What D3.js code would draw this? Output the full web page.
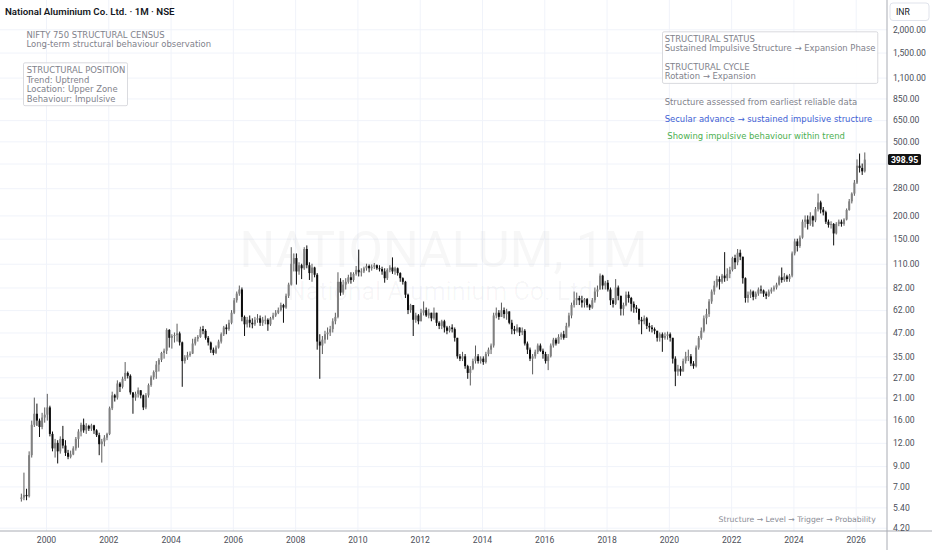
<!DOCTYPE html>
<html>
<head>
  <meta charset="utf-8">
  <title>NATIONALUM, 1M</title>
  <script src="https://d3js.org/d3.v7.min.js"></script>
  <style>
    body { margin: 0; background: #fff; }
    svg text { font-family: Roboto, "Noto Sans", sans-serif; }
    .note { font-family: "DejaVu Sans", sans-serif; font-size: 8.45px; fill: #7f828b; }
    .axis text { font-size: 8.6px; fill: #4c4f59; }
    .axis .domain { stroke: none; }
    .gridlines line { stroke: #f0f3fa; }
    .gridlines .domain { stroke: none; }
  </style>
</head>
<body>
  <svg id="chart" width="932" height="550"></svg>
  <script>
    // --- data (monthly candles, Mar 1999 -> Apr 2026)
    // each month opens at the previous month's close
    const firstYear = 1999;
    const firstMonthIdx = 2;   // March
    const firstOpen = 6.0;

    const closes = [
      6.1, 6.3, 6.2, 10.3, 15.0, 17.2, 15.8, 14.6, 16.4, 17.0,            // 1999
      18.6, 13.4, 11.2, 12.0, 10.8, 12.6, 11.6, 10.6, 10.1, 10.4, 11.2, 12.6, // 2000
      13.8, 15.0, 14.0, 14.8, 14.3, 14.9, 14.0, 13.2, 11.8, 12.2, 12.8, 13.4, // 2001
      18.4, 21.6, 21.0, 25.0, 24.0, 26.5, 28.5, 27.5, 22.4, 21.0, 22.0, 23.0, // 2002
      21.6, 18.6, 21.6, 24.5, 27.0, 28.8, 31.6, 33.5, 36.5, 37.5, 48.5, 44.0, // 2003
      45.0, 45.5, 46.5, 41.6, 33.0, 34.5, 35.5, 36.2, 41.0, 43.5, 44.5, 49.0, // 2004
      48.0, 44.0, 41.5, 38.0, 36.5, 39.0, 42.0, 46.0, 50.0, 49.0, 53.0, 60.0, // 2005
      70, 76, 80, 57, 52, 55, 53, 52, 55, 56, 53, 55,                      // 2006
      55, 52, 56, 58, 60, 62, 66, 64, 74, 85, 110, 118,                    // 2007
      100, 108, 104, 132, 108, 98, 105, 96, 42, 40, 43, 46,                // 2008
      47, 49, 54, 57, 88, 77, 85, 88, 93, 90, 97, 102,                     // 2009
      99, 100, 104, 107, 104, 106, 108, 104, 103, 100, 92, 102,            // 2010
      105, 100, 104, 98, 92, 88, 75, 62, 66, 55, 58, 54,                   // 2011
      60, 62, 58, 60, 56, 60, 53, 51, 54, 50, 48, 50,                      // 2012
      49, 44, 35, 34, 35, 31, 28.5, 30, 33, 35, 33, 34,                    // 2013
      32.6, 36, 38, 40, 58, 60, 57, 62, 59, 61, 53, 49,                    // 2014
      48, 50, 47, 48, 41, 38, 34, 35, 37, 40, 37.5, 36,                    // 2015
      33, 35, 40, 43, 41, 44.5, 46, 44, 51, 58, 66, 70,                    // 2016
      72, 70, 68, 71, 66, 64, 70, 78, 80, 95, 84, 87,                      // 2017
      80, 70, 67, 82, 74, 63, 66, 75, 72, 67, 64, 63,                      // 2018
      55, 54, 56, 51, 50, 49, 48, 44, 46, 44, 45, 46,                      // 2019
      44, 34, 29, 30, 29, 33, 35, 35, 32, 31, 39, 44,                      // 2020
      48, 56, 59, 69, 78, 84, 91, 88, 95, 92, 97, 102,                     // 2021
      118, 112, 126, 120, 92, 72, 75, 78, 73, 76, 80, 79,                  // 2022
      76, 74, 78, 80, 82, 85, 93, 90, 94, 91, 95, 125,                     // 2023
      145, 137, 152, 185, 190, 180, 198, 188, 216, 235, 215, 208,          // 2024
      185, 178, 180, 160, 180, 185, 180, 190, 214, 238, 262, 300,          // 2025
      370, 360, 345, 398.95                                                // 2026
    ];

    const highs = [
      6.4, 8.3, 6.8, 10.8, 15.8, 21.0, 19.5, 16.2, 17.4, 18.6,
      22.0, 19.0, 13.8, 12.6, 12.4, 13.0, 14.8, 12.4, 11.0, 10.9, 11.5, 12.9,
      14.2, 15.4, 16.2, 15.3, 15.0, 15.2, 15.0, 14.2, 13.6, 12.6, 13.2, 13.6,
      18.8, 22.6, 22.0, 26.0, 25.5, 27.2, 32.6, 29.0, 28.0, 22.4, 22.6, 23.8,
      22.8, 21.8, 22.2, 25.0, 27.6, 29.4, 33.0, 34.2, 37.0, 38.5, 49.5, 49.0,
      46.0, 47.0, 52.4, 47.5, 42.0, 35.5, 37.0, 37.2, 43.5, 44.5, 45.5, 50.5,
      51.0, 49.0, 45.0, 42.0, 39.0, 40.0, 43.0, 47.0, 51.0, 52.0, 55.0, 62.0,
      72, 78, 84, 82, 58, 57, 58, 56, 57, 59, 58, 57,
      58, 56, 57, 60, 62, 64, 68, 67, 76, 87, 135, 125,
      125, 112, 110, 135, 138, 112, 110, 106, 98, 46, 45, 48,
      50, 51, 56, 60, 99, 92, 90, 92, 96, 99, 99, 107,
      131, 104, 106, 110, 109, 109, 111, 109, 108, 106, 104, 104,
      108, 119, 106, 105, 99, 93, 89, 76, 67, 66, 60, 59,
      63, 69, 64, 63, 60, 64, 60, 54, 55, 55, 51, 51,
      52, 50, 44, 36, 37, 36, 31.5, 31, 34, 40, 36, 35,
      35, 37, 39, 41, 60, 64, 62, 68, 64, 63, 61, 55,
      51, 52, 50, 50, 49, 42, 39, 36, 38, 41, 41, 38.5,
      37, 36, 41, 44, 44, 46, 47, 48, 53, 60, 68, 78,
      77, 74, 74, 72, 72, 67, 72, 82, 84, 97.5, 96, 89,
      90, 82, 72, 91, 84, 74, 68, 78, 78, 73, 69, 66,
      63, 57, 58, 57, 53, 51.5, 50, 48, 47, 47, 47, 47.5,
      47, 44, 35, 31.5, 31, 34, 37, 38, 36, 33, 40, 45,
      50, 58, 63, 71, 80, 89, 95, 94, 97, 127, 104, 106,
      120, 123, 132, 131, 118, 93, 78, 80, 79, 78, 82, 84,
      80, 78, 80, 82, 84, 87, 95, 105, 98, 96, 97, 128,
      150, 150, 156, 190, 200, 200, 208, 200, 222, 262, 240, 222,
      212, 190, 186, 182, 184, 190, 190, 193, 218, 245, 266, 310,
      400, 430, 380, 436
    ];

    const lows = [
      5.8, 5.9, 5.9, 6.1, 10.0, 14.6, 14.8, 12.9, 14.2, 15.4,
      15.8, 13.0, 10.8, 10.0, 9.3, 10.5, 11.2, 10.2, 9.8, 9.9, 10.3, 10.9,
      11.3, 13.0, 13.6, 13.4, 13.9, 13.9, 13.4, 12.9, 10.3, 9.4, 11.5, 12.4,
      13.2, 18.0, 20.0, 20.5, 22.5, 23.5, 25.8, 26.6, 21.8, 17.2, 20.2, 21.0,
      20.8, 18.0, 18.2, 21.0, 24.0, 26.2, 26.5, 29.0, 32.6, 34.0, 36.0, 39.0,
      38.5, 41.5, 42.0, 40.0, 24.0, 32.0, 33.5, 34.8, 36.0, 40.0, 42.0, 44.0,
      46.0, 43.0, 40.0, 36.5, 35.5, 36.0, 38.5, 41.0, 45.0, 46.0, 48.0, 52.0,
      59, 68, 74, 54, 45, 50, 50, 49.5, 51, 53, 51, 51,
      52, 48, 51, 55, 57, 59, 61, 53, 63, 72, 84, 100,
      85, 96, 91, 102, 104, 90, 88, 93, 38, 26.5, 36, 41,
      43, 45, 47, 52, 56, 74, 75, 80, 86, 86, 88, 95,
      94, 94, 98, 101, 99, 101, 103, 102, 100, 96, 87, 90,
      99, 97, 96, 95, 88, 85, 72, 59, 60, 45, 53, 52,
      54, 58, 57, 56, 54, 55, 51, 49, 49, 47, 46, 47,
      47, 42, 34, 33, 33, 30, 26.5, 24.4, 29.5, 32, 32, 32,
      31.5, 32, 35, 36, 39, 56, 55, 57, 56, 55, 52, 46,
      46, 47, 45, 45.5, 40, 36, 33, 28, 34, 36, 37, 34,
      32, 29.5, 34.5, 39, 40, 41, 43, 43, 44, 50, 56, 64,
      66, 66, 64, 64, 64, 62, 63, 68, 73, 80, 80, 80,
      78, 66, 64, 66, 70, 58, 58, 65, 68, 61, 60, 60,
      52, 46, 52, 49, 47.5, 47, 46, 42, 42, 37, 43, 43,
      42, 32, 24.2, 27.5, 27.5, 29, 32, 33, 31, 30, 30.5, 38,
      43, 47, 52, 57, 67, 75, 82, 80, 86, 88, 89, 92,
      100, 103, 108, 115, 86, 68, 68, 72, 70, 71, 74, 76,
      73, 71, 73, 76, 78, 80, 84, 87, 88, 88, 88, 93,
      122, 128, 134, 150, 172, 168, 176, 174, 184, 210, 205, 200,
      180, 172, 170, 138, 158, 175, 174, 176, 188, 212, 232, 255,
      295, 340, 330, 340
    ];

    const yearTicks = [2000, 2002, 2004, 2006, 2008, 2010, 2012, 2014, 2016, 2018, 2020, 2022, 2024, 2026];
    // 380 sits under the last-price tag: it keeps its gridline but no label
    const gridPriceTicks = [2000, 1500, 1100, 850, 650, 500, 380, 280, 200, 150, 110, 82, 62, 47, 35, 27, 21, 16, 12, 9, 7, 5.4, 4.2];
    const labelPriceTicks = [2000, 1500, 1100, 850, 650, 500, 280, 200, 150, 110, 82, 62, 47, 35, 27, 21, 16, 12, 9, 7, 5.4, 4.2];
    const lastPrice = 398.95;

    const titleText = 'National Aluminium Co. Ltd. · 1M · NSE';
    const headerLines = ['NIFTY 750 STRUCTURAL CENSUS', 'Long-term structural behaviour observation'];
    const positionLines = ['STRUCTURAL POSITION', 'Trend: Uptrend', 'Location: Upper Zone', 'Behaviour: Impulsive'];
    const statusLines = ['STRUCTURAL STATUS', 'Sustained Impulsive Structure → Expansion Phase', '', 'STRUCTURAL CYCLE', 'Rotation → Expansion'];
    const sideNotes = [
      { text: 'Structure assessed from earliest reliable data', color: '#7f828b' },
      { text: 'Secular advance → sustained impulsive structure', color: '#3f5fd4' },
      { text: 'Showing impulsive behaviour within trend', color: '#4caf50' }
    ];
    const footerText = 'Structure → Level → Trigger → Probability';

    // --- layout
    const svg = d3.select('svg#chart');
    const width = +svg.attr('width');
    const height = +svg.attr('height');
    const plotRight = 887;
    const plotBottom = 531;

    const xScale = d3.scaleLinear().domain([2000, 2026]).range([46, 855.7]);
    const yScale = d3.scaleLog().domain([4.2, 2000]).range([527.7, 29.3]);

    const candles = closes.map((c, i) => {
      const o = i === 0 ? firstOpen : closes[i - 1];
      return {
        t: firstYear + (firstMonthIdx + i + 0.5) / 12,
        o: o,
        c: c,
        h: Math.max(highs[i], o, c),
        l: Math.min(lows[i], o, c)
      };
    });

    // gridlines
    svg.append('g')
      .attr('class', 'gridlines')
      .attr('transform', `translate(0,${plotBottom})`)
      .call(d3.axisBottom(xScale).tickValues(yearTicks).tickFormat('').tickSize(-plotBottom));

    svg.append('g')
      .attr('class', 'gridlines')
      .attr('transform', `translate(${plotRight},0)`)
      .call(d3.axisLeft(yScale).tickValues(gridPriceTicks).tickFormat('').tickSize(plotRight));

    // watermark
    svg.append('text')
      .attr('x', plotRight / 2).attr('y', 267)
      .attr('text-anchor', 'middle')
      .style('font-size', '50px')
      .style('fill', '#131722').style('fill-opacity', 0.035)
      .text('NATIONALUM, 1M');
    svg.append('text')
      .attr('x', plotRight / 2).attr('y', 300)
      .attr('text-anchor', 'middle')
      .style('font-size', '25px')
      .style('fill', '#131722').style('fill-opacity', 0.035)
      .text('National Aluminium Co. Ltd.');

    // candles
    const step = xScale(2000 + 1 / 12) - xScale(2000);
    const bodyW = step * 0.78;
    const upFill = '#808080', upLine = '#5c5c5c', downFill = '#0d0d0d';

    const candleG = svg.append('g');
    candles.forEach(d => {
      const up = d.c >= d.o;
      const cx = xScale(d.t);
      candleG.append('line')
        .attr('x1', cx).attr('x2', cx)
        .attr('y1', yScale(d.h)).attr('y2', yScale(d.l))
        .attr('stroke', up ? upLine : downFill)
        .attr('stroke-width', 1);
      const top = yScale(Math.max(d.o, d.c));
      const bot = yScale(Math.min(d.o, d.c));
      candleG.append('rect')
        .attr('x', cx - bodyW / 2)
        .attr('y', top)
        .attr('width', bodyW)
        .attr('height', Math.max(bot - top, 0.9))
        .attr('fill', up ? upFill : downFill);
    });

    // axes frame
    svg.append('line')
      .attr('x1', plotRight).attr('x2', plotRight).attr('y1', 0).attr('y2', height)
      .attr('stroke', '#a9acb4');
    svg.append('line')
      .attr('x1', 0).attr('x2', width).attr('y1', plotBottom).attr('y2', plotBottom)
      .attr('stroke', '#a9acb4');

    svg.append('g')
      .attr('class', 'axis')
      .attr('transform', `translate(0,${plotBottom})`)
      .call(d3.axisBottom(xScale).tickValues(yearTicks).tickFormat(d3.format('d')).tickSize(0).tickPadding(6));

    svg.append('g')
      .attr('class', 'axis')
      .attr('transform', `translate(${plotRight},0)`)
      .call(d3.axisRight(yScale).tickValues(labelPriceTicks).tickFormat(d3.format(',.2f')).tickSize(0).tickPadding(6));

    // last price tag
    const lastY = yScale(lastPrice);
    svg.append('rect')
      .attr('x', 888).attr('y', lastY - 5.5)
      .attr('width', 33).attr('height', 11)
      .attr('rx', 1.5)
      .attr('fill', '#131313');
    svg.append('text')
      .attr('x', 904.5).attr('y', lastY)
      .attr('dy', '0.35em')
      .attr('text-anchor', 'middle')
      .style('font-size', '8.6px').style('font-weight', 700)
      .style('fill', '#fff')
      .text(d3.format('.2f')(lastPrice));

    // currency box
    svg.append('rect')
      .attr('x', 890).attr('y', 3)
      .attr('width', 39).attr('height', 17.5)
      .attr('rx', 3)
      .attr('fill', '#fff').attr('stroke', '#e0e3eb');
    svg.append('text')
      .attr('x', 896).attr('y', 12)
      .attr('dy', '0.35em')
      .style('font-size', '8.6px').style('fill', '#131722')
      .text('INR');

    // title
    svg.append('text')
      .attr('x', 5).attr('y', 15)
      .style('font-size', '9.7px').style('font-weight', 600)
      .style('fill', '#131722')
      .text(titleText);

    // note blocks
    function textBlock(lines, x, y, lineH) {
      const g = svg.append('g');
      lines.forEach((s, i) => {
        g.append('text')
          .attr('class', 'note')
          .attr('x', x).attr('y', y + i * lineH)
          .text(s);
      });
      return g;
    }

    function boxAround(g, pad) {
      const b = g.node().getBBox();
      g.insert('rect', ':first-child')
        .attr('x', b.x - pad).attr('y', b.y - pad)
        .attr('width', b.width + pad * 2).attr('height', b.height + pad * 2)
        .attr('rx', 1.5)
        .attr('fill', '#fff').attr('fill-opacity', 0.85)
        .attr('stroke', '#cfd1d6').attr('stroke-width', 0.8);
    }

    textBlock(headerLines, 26.5, 38, 9.3);
    boxAround(textBlock(positionLines, 26.7, 73, 9.5), 2.2);
    boxAround(textBlock(statusLines, 664.7, 42, 9.3), 2.2);

    sideNotes.forEach((n, i) => {
      svg.append('text')
        .attr('class', 'note')
        .attr('x', i === 2 ? 667.3 : 664.7)
        .attr('y', 104.7 + i * 17.2)
        .style('fill', n.color)
        .text(n.text);
    });

    svg.append('text')
      .attr('class', 'note')
      .attr('x', 875.7).attr('y', 521.5)
      .attr('text-anchor', 'end')
      .style('font-size', '7.7px').style('fill', '#8a8d96')
      .text(footerText);
  </script>
</body>
</html>
